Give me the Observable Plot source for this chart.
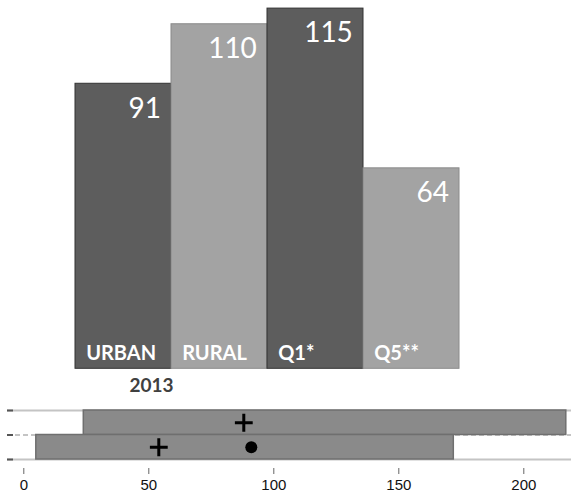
<!DOCTYPE html>
<html><head><meta charset="utf-8">
<script src="https://cdn.jsdelivr.net/npm/d3@7"></script>
<script src="https://cdn.jsdelivr.net/npm/@observablehq/plot@0.6"></script>
<style>
html,body{margin:0;padding:0;background:#fff;}
#chart{width:571px;height:492px;overflow:hidden;position:relative}
#chart svg{display:block;overflow:visible}
</style></head><body><div id="chart"></div>
<script>
// ---- top chart data ----
const categories = ["URBAN", "RURAL", "Q1*", "Q5**"];
const values = [91, 110, 115, 64];
const shades = ["dark", "light", "dark", "light"];
const yearLabel = "2013";

// ---- bottom strip data ----
const rangeRows = ["upper", "lower"];
const rangeLow = [24, 5];
const rangeHigh = [217, 172];
const crossValues = [88, 54];
const dotRow = "lower";
const dotValue = 91;
const axisTicks = [0, 50, 100, 150, 200];

const fillOf = {dark: "#5d5d5d", light: "#a3a3a3"};
const strokeOf = {dark: "#333333", light: "#8a8a8a"};

const bars = categories.map((c, i) => ({cat: c, value: values[i], shade: shades[i]}));
const bw = (460 - 73) / categories.length;

const barChart = Plot.plot({
  width: 571, height: 400,
  marginTop: 0, marginBottom: 0, marginLeft: 0, marginRight: 0,
  style: {background: "#fff"},
  x: {type: "band", domain: categories, range: [73, 460], padding: 0, axis: null},
  y: {domain: [0, 115], range: [368.3, 8.1], axis: null},
  marks: [
    Plot.barY(bars, {x: "cat", y: "value", fill: d => fillOf[d.shade], stroke: d => strokeOf[d.shade], strokeWidth: 1}),
    Plot.text(bars, {x: "cat", y: "value", text: d => String(d.value), textAnchor: "end", lineAnchor: "top",
      dx: bw / 2 - 11, dy: 14, fill: "#fff", fontSize: 28, fontFamily: "Lato"}),
    Plot.text(bars, {x: "cat", y: () => 0, text: "cat", textAnchor: "start", lineAnchor: "bottom",
      dx: -bw / 2 + 11, dy: -9, fill: "#fff", fontSize: 20, fontWeight: "bold", fontFamily: "Lato",
      letterSpacing: "0.8px"}),
    Plot.text([yearLabel], {x: () => categories[0], y: () => 0, text: d => d, textAnchor: "middle", lineAnchor: "middle",
      dx: 28, dy: 17, fill: "#404040", fontSize: 19, fontWeight: "bold", fontFamily: "Lato"})
  ]
});

const rows = rangeRows.map((r, i) => {
  const y1 = rangeRows.length - 1 - i;
  return {row: r, y1, y2: y1 + 1, lo: rangeLow[i], hi: rangeHigh[i], cross: crossValues[i]};
});
const edges = d3.range(rangeRows.length + 1);
const dotData = rows.filter(r => r.row === dotRow).map(r => ({row: r.row, y: r.y1 + 0.5, v: dotValue}));

const strip = Plot.plot({
  width: 571, height: 92,
  marginTop: 10, marginBottom: 24, marginLeft: 7, marginRight: 0,
  style: {background: "#fff"},
  x: {domain: [0, 200], range: [23.3, 523.3]},
  y: {domain: [0, rangeRows.length], range: [59, 10], axis: null},
  marks: [
    Plot.ruleY(edges.filter(e => e !== 1), {stroke: "#c4c4c4", strokeWidth: 2}),
    Plot.ruleY([1], {stroke: "#c4c4c4", strokeWidth: 2, strokeDasharray: "5,3"}),
    Plot.ruleY(edges, {stroke: "#555", strokeWidth: 2, insetRight: 558}),
    Plot.rectX(rows, {x1: "lo", x2: "hi", y1: "y1", y2: "y2", fill: "#8a8a8a", stroke: "#6f6f6f", strokeWidth: 1.5}),
    Plot.dot(rows, {x: "cross", y: d => d.y1 + 0.5, symbol: "plus", r: 5.8, stroke: "#000", strokeWidth: 3}),
    Plot.dot(dotData, {x: "v", y: "y", r: 6, fill: "#000", stroke: null}),
    Plot.axisX(axisTicks, {tickSize: 6, tickPadding: 5, fontSize: 15, fontFamily: "Liberation Sans",
      stroke: "#666", color: "#111", tickFormat: d => String(d)})
  ]
});

document.getElementById("chart").append(barChart, strip);
</script>
</body></html>
